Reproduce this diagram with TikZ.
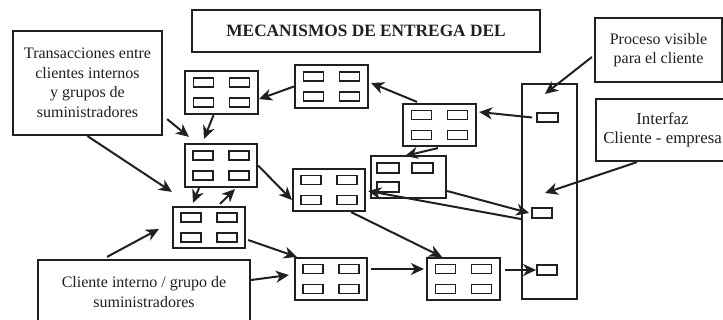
\documentclass[tikz,border=0pt]{standalone}
\usepackage{fontspec}
\setmainfont{Liberation Serif}
\usetikzlibrary{arrows.meta}
\definecolor{ink}{RGB}{35,31,32}
\tikzset{
  box/.style={draw=ink, line width=2.2pt, inner sep=0pt, fill=white, text=ink},
  txt/.style={font=\fontsize{16}{19.5}\selectfont, align=center, text=ink},
  mod/.style={box, minimum width=73pt, minimum height=43pt,
    path picture={
      \draw[ink, line width=1.8pt] (path picture bounding box.center) +(-28,-14.5) rectangle +(-8,-5.5);
      \draw[ink, line width=1.8pt] (path picture bounding box.center) +(8,-14.5) rectangle +(28,-5.5);
      \draw[ink, line width=1.8pt] (path picture bounding box.center) +(-28,5.5) rectangle +(-8,14.5);
      \draw[ink, line width=1.8pt] (path picture bounding box.center) +(8,5.5) rectangle +(28,14.5);
    }},
  modthree/.style={box, minimum width=75pt, minimum height=42pt,
    path picture={
      \draw[ink, line width=1.8pt] (path picture bounding box.center) +(-31.5,-14) rectangle +(-9.5,-4);
      \draw[ink, line width=1.8pt] (path picture bounding box.center) +(3.5,-14) rectangle +(24.5,-4);
      \draw[ink, line width=1.8pt] (path picture bounding box.center) +(-31.5,5) rectangle +(-9.5,15);
    }},
  slot/.style={draw=ink, line width=1.8pt, inner sep=0pt, minimum width=20pt, minimum height=9pt},
  arr/.style={draw=ink, line width=2pt, -{Stealth[length=13pt, width=12pt, inset=4pt]}}
}
\begin{document}
\begin{tikzpicture}[x=1pt, y=-1pt]
\useasboundingbox (0,0) rectangle (723,320);
% text boxes
\node[box, minimum width=348pt, minimum height=42pt, font=\fontsize{17.3}{20}\selectfont\bfseries] (title) at (366,31) {MECANISMOS DE ENTREGA DEL};
\node[box, txt, minimum width=149pt, minimum height=104pt] (trans) at (87.5,83) {Transacciones entre\\clientes internos\\y grupos de\\suministradores};
\node[box, txt, minimum width=127pt, minimum height=64pt] (proc) at (658.5,50) {Proceso visible\\para el cliente};
\node[box, txt, minimum width=133pt, minimum height=62pt, font=\fontsize{16.8}{18.5}\selectfont] (intf) at (662.5,130) {Interfaz\\Cliente - empresa};
\node[box, minimum width=212pt, minimum height=80pt] (cl) at (144,300) {};
\node[txt] (cltext) at (144,292) {Cliente interno / grupo de\\suministradores};
% customer column
\node[box, minimum width=55pt, minimum height=215pt] (cust) at (549.5,191.5) {};
\node[slot, minimum width=21pt] (s1) at (547.5,117.5) {};
\node[slot, minimum height=10pt] (s2) at (542,213) {};
\node[slot, minimum height=10pt] (s3) at (547,270) {};
% modules
\node[mod] (m1) at (221.5,92.5) {};
\node[mod] (m2) at (331.5,86.5) {};
\node[mod, minimum height=42pt] (m3) at (439.5,125) {};
\node[mod, minimum width=72pt] (m4) at (221,165.5) {};
\node[mod, minimum width=72pt, minimum height=42pt] (m5) at (329,190) {};
\node[modthree] (m6) at (408.5,177) {};
\node[mod, minimum width=72pt, minimum height=41pt] (m7) at (209,227.5) {};
\node[mod, minimum width=72pt, minimum height=42pt] (m8) at (331,279) {};
\node[mod, minimum height=42pt] (m9) at (463.5,279) {};
% arrows
\draw[arr] (m2.west) -- (m1.-10);
\draw[arr] ([xshift=-8pt]m1.south) -- ([xshift=-17pt,yshift=4pt]m4.north);
\draw[arr] ([shift={(4pt,17pt)}]trans.south east) -- ([shift={(5pt,6pt)}]m4.north west);
\draw[arr] (trans.south) -- ([yshift=14pt]m7.north west);
\draw[arr] ([xshift=-22pt]m4.south) -- ([xshift=-16pt,yshift=3pt]m7.north);
\draw[arr] ([xshift=11pt,yshift=2pt]m7.north) -- ([xshift=14pt,yshift=-1pt]m4.south);
\draw[arr] (m4.east) -- ([yshift=-10pt]m5.west);
\draw[arr] ([xshift=-37pt,yshift=2pt]cl.north) -- ([xshift=-13pt,yshift=-1.5pt]m7.west);
\draw[arr] ([xshift=2pt,yshift=-12.5pt]m7.east) -- ([xshift=3pt]m8.north west);
\draw[arr] ([yshift=20pt]cl.east) -- ([xshift=-5pt,yshift=4pt]m8.west);
\draw[arr] ([xshift=3pt,yshift=10pt]m8.east) -- ([xshift=-2pt,yshift=10pt]m9.west);
\draw[arr] ([xshift=4pt,yshift=9pt]m9.east) -- (s3.west);
\draw[arr] ([xshift=-15pt]m5.south east) -- ([xshift=-21.5pt]m9.north);
\draw[arr] ([yshift=-14pt]m6.east) -- ([xshift=-2pt]s2.west);
\draw[arr] ([yshift=-27.5pt]cust.west) -- ([xshift=2pt,yshift=-1pt]m5.east);
\draw[arr] ([xshift=-1.5pt,yshift=-1pt]m3.south) -- ([xshift=-3.5pt,yshift=-1pt]m6.north);
\draw[arr] ([xshift=-4pt]s1.west) -- ([xshift=2pt,yshift=13pt]m3.east);
\draw[arr] ([xshift=-22.5pt,yshift=1pt]m3.north) -- ([xshift=2pt,yshift=3.5pt]m2.east);
\draw[arr] ([xshift=-2pt,yshift=-7pt]proc.west) -- ([xshift=-4.5pt,yshift=-11pt]cust.north);
\draw[arr] ([xshift=-25.5pt]intf.south) -- ([xshift=-4.5pt,yshift=-1.5pt]cust.center);
\end{tikzpicture}
\end{document}
